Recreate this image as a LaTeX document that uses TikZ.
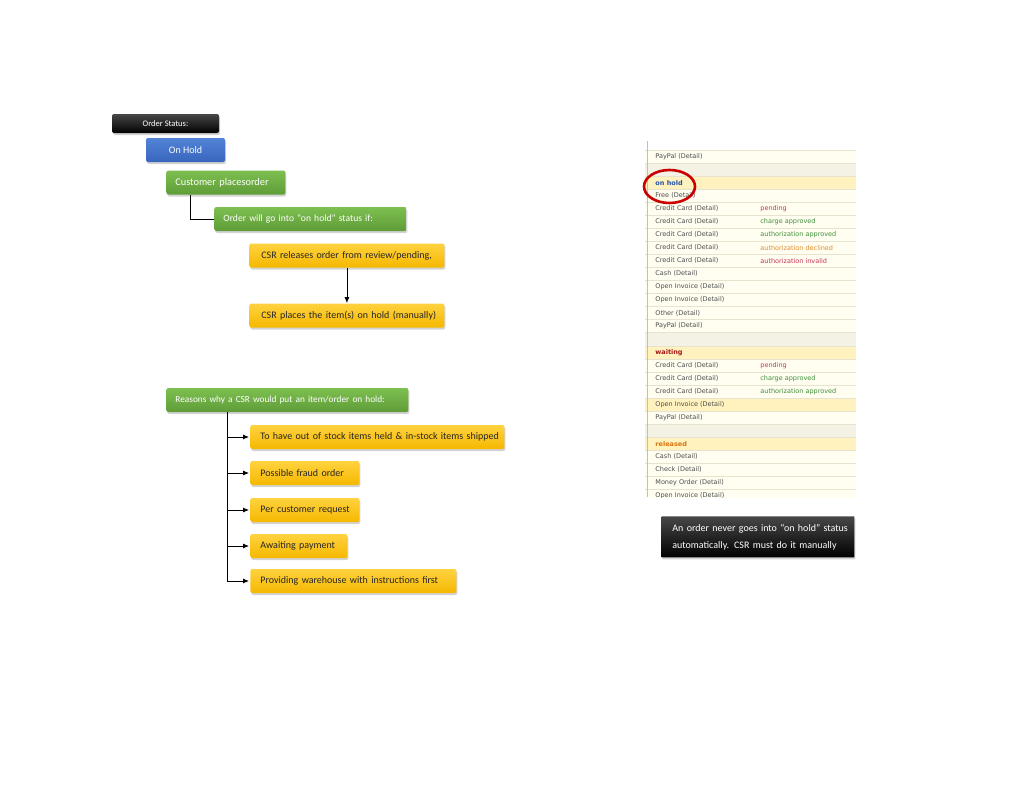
\documentclass[tikz,border=0pt]{standalone}
\usepackage{fontspec}
\setmainfont{Carlito}
\newfontfamily\tabfont{DejaVu Sans}
\usetikzlibrary{shadows,arrows.meta}

\definecolor{bluetop}{HTML}{5183D6}
\definecolor{bluebot}{HTML}{3A66BE}
\definecolor{greentop}{HTML}{7DBF50}
\definecolor{greenbot}{HTML}{5F9C38}
\definecolor{yellowtop}{HTML}{FFD23F}
\definecolor{yellowbot}{HTML}{F5B800}
\definecolor{rowcream}{HTML}{FFFEF1}
\definecolor{rowblank}{HTML}{F3F2E4}
\definecolor{rowhigh}{HTML}{FFF2BE}
\definecolor{rowline}{HTML}{E6E4CF}
\definecolor{tabgrey}{HTML}{4E4E4E}
\definecolor{tabred}{HTML}{C8325A}
\definecolor{tabgreen}{HTML}{3F8F3A}
\definecolor{taborange}{HTML}{E08A2A}
\definecolor{holdblue}{HTML}{2352A8}
\definecolor{waitred}{HTML}{A3161B}
\definecolor{relorange}{HTML}{D9750F}

\newcommand{\fs}[1]{\fontsize{#1}{12}\selectfont}

\tikzset{
  box/.style={rounded corners=2pt,minimum height=24pt,inner ysep=0pt,
    font=\fs{10},
    drop shadow={shadow xshift=1pt,shadow yshift=-2pt,opacity=.35}},
  blackbox/.style={box,top color=black!72,bottom color=black,text=white},
  bluebox/.style={box,top color=bluetop,bottom color=bluebot,text=white},
  greenbox/.style={box,top color=greentop,bottom color=greenbot,text=white,
    anchor=west,align=left,inner xsep=9pt},
  yellowbox/.style={box,top color=yellowtop,bottom color=yellowbot,text=black!85,
    anchor=west,align=left,inner xsep=10pt},
  tabtext/.style={anchor=west,inner sep=0pt,font=\tabfont\fontsize{6.5}{7}\selectfont,text=tabgrey},
  tabhead/.style={tabtext,font=\tabfont\bfseries\fontsize{6.5}{7}\selectfont}
}

\begin{document}
\begin{tikzpicture}[x=1pt,y=-1pt,>={Latex[length=6pt,width=5pt]},line width=.8pt]
\useasboundingbox (0,0) rectangle (1024,792);

% flow on the left
\node[blackbox,minimum width=107pt,minimum height=19pt,font=\fs{8.5}] (status) at (165.5,123.5) {Order Status:};
\node[bluebox,minimum width=79pt] (hold) at (185.5,150) {On Hold};
\node[greenbox,text width=101pt,font=\fs{10.3}] (cust) at (166,182.5) {\mbox{Customer placesorder}};
\node[greenbox,text width=174pt,font=\fs{9.6}] (cond) at (214,219) {\mbox{Order will go into “on hold” status if:}};
\node[yellowbox,inner xsep=12pt,text width=171pt] (rel) at (249,255.5) {\mbox{CSR releases order from review/pending,}};
\node[yellowbox,inner xsep=12pt,text width=171pt] (put) at (249,315.5) {\mbox{CSR places the item(s) on hold (manually)}};

\draw ([xshift=24pt]cust.south west) |- (cond.west);
\draw[->] (rel.south) -- (put.north);

% reasons
\node[greenbox,text width=224pt,font=\fs{9.3}] (why) at (166,400) {\mbox{Reasons why a CSR would put an item/order on hold:}};
\node[yellowbox,text width=234pt] (r1) at (250,437) {\mbox{To have out of stock items held \& in-stock items shipped}};
\node[yellowbox,text width=89pt] (r2) at (250,473) {\mbox{Possible fraud order}};
\node[yellowbox,text width=89pt] (r3) at (250,510) {\mbox{Per customer request}};
\node[yellowbox,text width=77pt] (r4) at (250,546) {\mbox{Awaiting payment}};
\node[yellowbox,text width=186pt] (r5) at (250,581) {\mbox{Providing warehouse with instructions first}};

\coordinate (trunk) at ([xshift=61pt]why.south west);
\draw (trunk) -- (trunk |- r5.west);
\foreach \i in {1,...,5}
  \draw[->] (trunk |- r\i.west) -- ([xshift=-1pt]r\i.west);

% screenshot of the status list
\begin{scope}
\clip (645,141) rectangle (856,497);
\fill[white] (645,141) rectangle (856,497);
\foreach \k/\c in {0/rowcream,1/rowblank,2/rowhigh,3/rowcream,4/rowcream,5/rowcream,6/rowcream,
    7/rowcream,8/rowcream,9/rowcream,10/rowcream,11/rowcream,12/rowcream,13/rowcream,14/rowblank,
    15/rowhigh,16/rowcream,17/rowcream,18/rowcream,19/rowhigh,20/rowcream,21/rowblank,22/rowhigh,
    23/rowcream,24/rowcream,25/rowcream,26/rowcream}
{
  \fill[\c] (645,{150+13.05*\k}) rectangle (856,{163.05+13.05*\k});
  \draw[rowline,line width=.5pt] (645,{150+13.05*\k}) -- (856,{150+13.05*\k});
}
\draw[black!25,line width=.6pt] (647,141) -- (647,497);
\foreach \k/\t in {0/PayPal (Detail),3/Free (Detail),4/Credit Card (Detail),5/Credit Card (Detail),
    6/Credit Card (Detail),7/Credit Card (Detail),8/Credit Card (Detail),9/Cash (Detail),
    10/Open Invoice (Detail),11/Open Invoice (Detail),12/Other (Detail),13/PayPal (Detail),
    16/Credit Card (Detail),17/Credit Card (Detail),18/Credit Card (Detail),19/Open Invoice (Detail),
    20/PayPal (Detail),23/Cash (Detail),24/Check (Detail),25/Money Order (Detail),26/Open Invoice (Detail)}
  \node[tabtext] (t\k) at (655,{156.5+13.05*\k}) {\t};
\foreach \k/\t/\c in {4/pending/tabred,5/charge approved/tabgreen,6/authorization approved/tabgreen,
    7/authorization declined/taborange,8/authorization invalid/tabred,16/pending/tabred,
    17/charge approved/tabgreen,18/authorization approved/tabgreen}
  \node[tabtext,text=\c] (s\k) at (760,{156.5+13.05*\k}) {\t};
\node[tabhead,text=holdblue] (onhold) at (655,{156.5+13.05*2}) {on hold};
\node[tabhead,text=waitred] (waiting) at (655,{156.5+13.05*15}) {waiting};
\node[tabhead,text=relorange] (released) at (655,{156.5+13.05*22}) {released};
\end{scope}
\draw[red!80!black,line width=2.6pt] (669.5,186.5) ellipse (25.5 and 16.5);

% note
\node[blackbox,rounded corners=.5pt,anchor=north west,align=left,text width=171pt,inner xsep=11pt,
  minimum height=41pt,font=\fontsize{10}{17}\selectfont] (note) at (661,516)
  {\mbox{An order never goes into “on hold” status}\\\mbox{automatically. CSR must do it manually}};
\end{tikzpicture}
\end{document}
